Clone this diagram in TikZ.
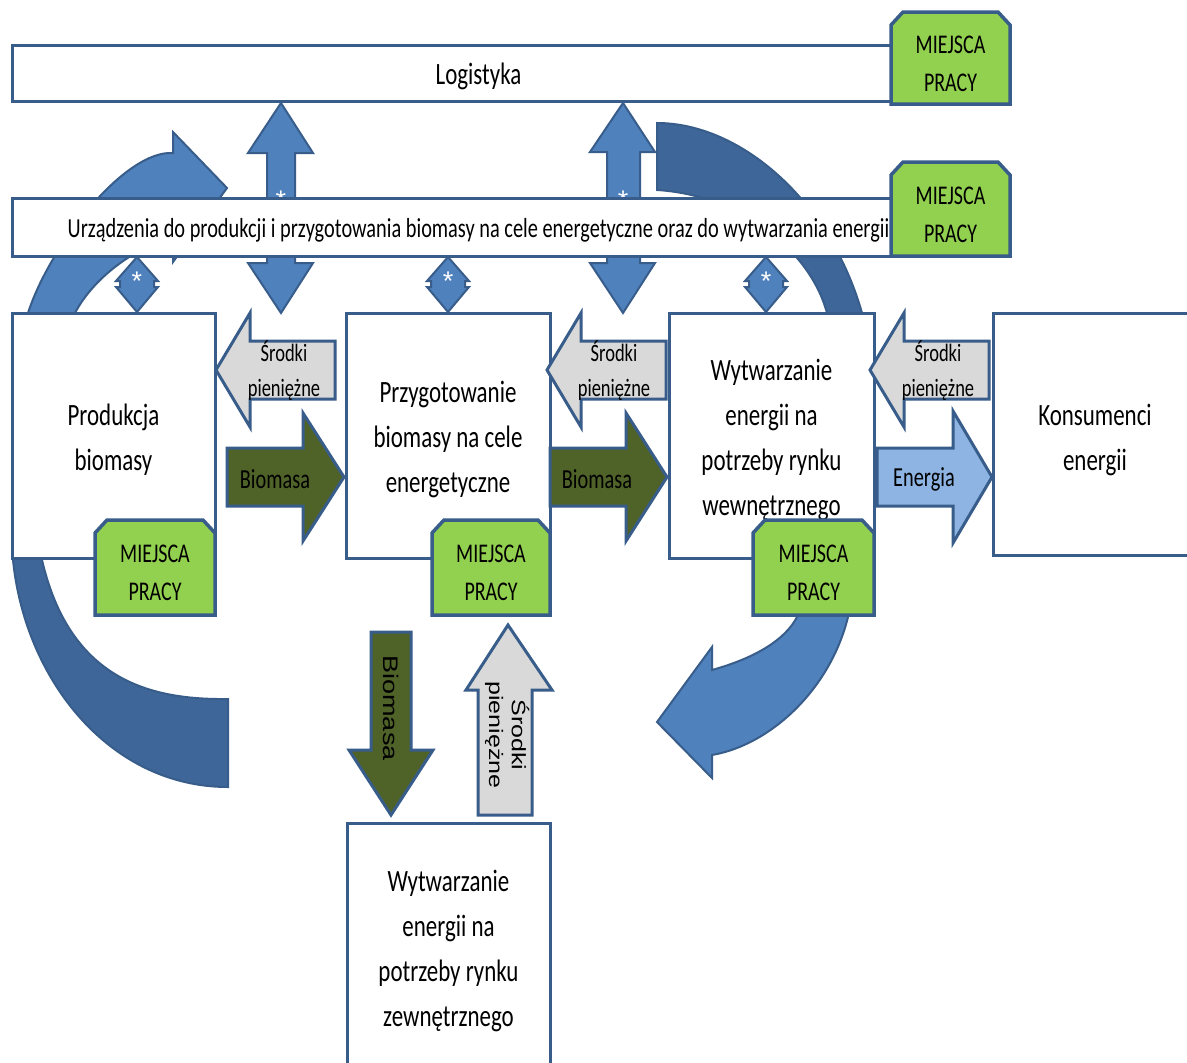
\documentclass[tikz,border=0pt]{standalone}
\usepackage{fontspec}
\setmainfont{Carlito}[FakeStretch=0.74]
\newfontfamily\rotfont{Liberation Sans}
\definecolor{bord}{HTML}{385D8A}
\definecolor{medblue}{HTML}{4F81BD}
\definecolor{darkblue}{HTML}{3E6698}
\definecolor{tagfill}{HTML}{92D050}
\definecolor{lgrey}{HTML}{D9D9D9}
\definecolor{bioc}{HTML}{4F6228}
\definecolor{enc}{HTML}{8DB4E2}
\tikzset{
  bx/.style={draw=bord, line width=3pt, fill=white, inner sep=0pt},
  btxt/.style={align=center, inner sep=0pt, font=\fontsize{31}{45}\selectfont},
  arcA/.style={fill=medblue, draw=bord, line width=2pt, line join=miter},
  arcD/.style={fill=darkblue, draw=bord, line width=2pt},
  tagst/.style={fill=tagfill, draw=bord, line width=3.5pt},
  tagtext/.style={align=center, inner sep=0pt, font=\fontsize{27}{38}\selectfont},
  greyarr/.style={fill=lgrey, draw=bord, line width=3pt},
  bioarr/.style={fill=bioc, draw=bord, line width=3pt},
  enarr/.style={fill=enc, draw=bord, line width=3pt},
  srtext/.style={align=center, inner sep=0pt, font=\fontsize{25}{35}\selectfont},
  artext/.style={inner sep=0pt, font=\fontsize{27.5}{33}\selectfont},
  ast/.style={text=white, inner sep=0pt, anchor=north, font=\rotfont\fontsize{27}{30}\selectfont}
}
\newcommand\mtag[6]{%
  \draw[tagst] (#1,#4) -- (#1,#2+13) -- (#1+12,#2) -- (#3-12,#2) -- (#3,#2+13) -- (#3,#4) -- cycle;
  \node[tagtext] (#5) at ({(#1+#3)/2},{(#2+#4)/2+#6}) {MIEJSCA\\PRACY};}
\newcommand\dia[2]{%
  \draw[arcA] (#1,257) -- (#1+21,281) -- (#1+17,281) -- (#1+17,287) -- (#1+21,287) -- (#1,312) -- (#1-21,287) -- (#1-17,287) -- (#1-17,281) -- (#1-21,281) -- cycle;
  \node[ast] (#2) at (#1,272) {*};}
\begin{document}
\begin{tikzpicture}[x=1pt,y=-1pt]
\useasboundingbox (0,0) rectangle (1187,1063);
\clip (0,0) rectangle (1187,1063);
\fill[white] (0,0) rectangle (1187,1063);
% circular arcs
\draw[arcD] (657,123) .. controls (740,123) and (830,200) .. (862,313) -- (862,420) -- (827,420) -- (827,313) .. controls (810,250) and (740,195) .. (657,190) -- cycle;
\draw[arcA] (28,420) -- (28,313) .. controls (50,245) and (125,150) .. (173,153) -- (173,132) -- (227,188) -- (173,262) -- (173,238) .. controls (140,245) and (95,275) .. (75,313) -- (75,420) -- cycle;
\draw[arcD] (13,540) -- (13,560) .. controls (25,680) and (110,787) .. (228,787) -- (228,699) .. controls (150,700) and (70,680) .. (42,560) -- (42,540) -- cycle;
\draw[arcA] (848,560) -- (848,617) .. controls (830,690) and (770,745) .. (712,755) -- (712,778) -- (657,722) -- (712,647) -- (712,670) .. controls (755,658) and (785,640) .. (797,617) -- (797,560) -- cycle;
% double vertical arrows
\draw[arcA] (281,103) -- (313,153) -- (295,153) -- (295,263) -- (313,263) -- (281,313) -- (248,263) -- (267,263) -- (267,153) -- (248,153) -- cycle;
\begin{scope}
\clip (240,100) rectangle (330,197);
\node[ast] (as1) at (281,191) {*};
\end{scope}
\draw[arcA] (623,103) -- (655,152) -- (640,152) -- (640,263) -- (655,263) -- (623,313) -- (590,263) -- (607,263) -- (607,152) -- (590,152) -- cycle;
\begin{scope}
\clip (580,100) rectangle (670,197);
\node[ast] (as2) at (623,191) {*};
\end{scope}
% long boxes
\node[bx, minimum width=933pt, minimum height=56pt] (log) at (478.5,73) {};
\node[btxt] (logt) at ([yshift=-3pt]log.center) {Logistyka};
\node[bx, minimum width=933pt, minimum height=58pt] (urz) at (478.5,227) {};
\node[btxt, font=\fontsize{27.5}{33}\selectfont] (urzt) at ([yshift=-3pt]urz.center) {Urządzenia do produkcji i przygotowania biomasy na cele energetyczne oraz do wytwarzania energii};
\mtag{891}{12}{1010}{104}{t1}{6}
\mtag{891}{162}{1010}{256}{t2}{6}
% diamonds
\dia{137}{d1}
\dia{448}{d2}
\dia{766}{d3}
% main boxes
\node[bx, minimum width=203pt, minimum height=245pt] (prod) at (113.5,435.5) {};
\node[btxt] (prodt) at ([yshift=-4pt]prod.center) {Produkcja\\biomasy};
\node[bx, minimum width=204pt, minimum height=245pt] (przyg) at (448,435.5) {};
\node[btxt] (przygt) at ([yshift=-4pt]przyg.center) {Przygotowanie\\biomasy na cele\\energetyczne};
\node[bx, minimum width=205pt, minimum height=245pt] (wew) at (771.5,435.5) {};
\node[btxt] (wewt) at ([yshift=-4pt]wew.center) {Wytwarzanie\\energii na\\potrzeby rynku\\wewnętrznego};
\node[bx, minimum width=204pt, minimum height=242pt] (kons) at (1095,434) {};
\node[btxt] (konst) at ([yshift=-6pt]kons.center) {Konsumenci\\energii};
\node[bx, minimum width=203pt, minimum height=245pt] (zew) at (448.5,945.5) {};
\node[btxt] (zewt) at ([yshift=-5pt]zew.center) {Wytwarzanie\\energii na\\potrzeby rynku\\zewnętrznego};
\mtag{95}{520}{215}{615}{t3}{5}
\mtag{432}{520}{550}{615}{t4}{5}
\mtag{753}{520}{874}{615}{t5}{5}
% horizontal arrows
\draw[greyarr] (335,341) -- (250,341) -- (250,313) -- (216,370) -- (250,427) -- (250,399) -- (335,399) -- cycle;
\node[srtext] (s1) at (284,371) {Środki\\pieniężne};
\draw[greyarr] (666,341) -- (581,341) -- (581,313) -- (547,370) -- (581,427) -- (581,399) -- (666,399) -- cycle;
\node[srtext] (s2) at (614,371) {Środki\\pieniężne};
\draw[greyarr] (989,341) -- (904,341) -- (904,313) -- (870,370) -- (904,427) -- (904,399) -- (989,399) -- cycle;
\node[srtext] (s3) at (938,371) {Środki\\pieniężne};
\draw[bioarr] (227,448) -- (303,448) -- (303,413) -- (344,477) -- (303,541) -- (303,506) -- (227,506) -- cycle;
\node[artext] (b1) at (275,479) {Biomasa};
\draw[bioarr] (550,448) -- (626,448) -- (626,413) -- (667,477) -- (626,541) -- (626,506) -- (550,506) -- cycle;
\node[artext] (b2) at (597,479) {Biomasa};
\draw[enarr] (877,448) -- (953,448) -- (953,411) -- (992,477) -- (953,543) -- (953,506) -- (877,506) -- cycle;
\node[artext] (e1) at (924,479) {Energia};
% vertical arrows
\draw[bioarr] (371,632) -- (411,632) -- (411,750) -- (433,750) -- (391,815) -- (349,750) -- (371,750) -- cycle;
\node[rotate=-90, inner sep=0pt, font=\rotfont\fontsize{27}{33}\selectfont] (b3) at (391,708) {\scalebox{1}[0.78]{Biomasa}};
\draw[greyarr] (478,815) -- (532,815) -- (532,690) -- (552,690) -- (508,625) -- (466,690) -- (478,690) -- cycle;
\node[rotate=-90, inner sep=0pt, font=\rotfont\fontsize{25}{35}\selectfont] (s4) at (506,735) {\scalebox{1}[0.78]{\begin{tabular}{@{}c@{}}Środki\\[-6pt]pieniężne\end{tabular}}};
\end{tikzpicture}
\end{document}
